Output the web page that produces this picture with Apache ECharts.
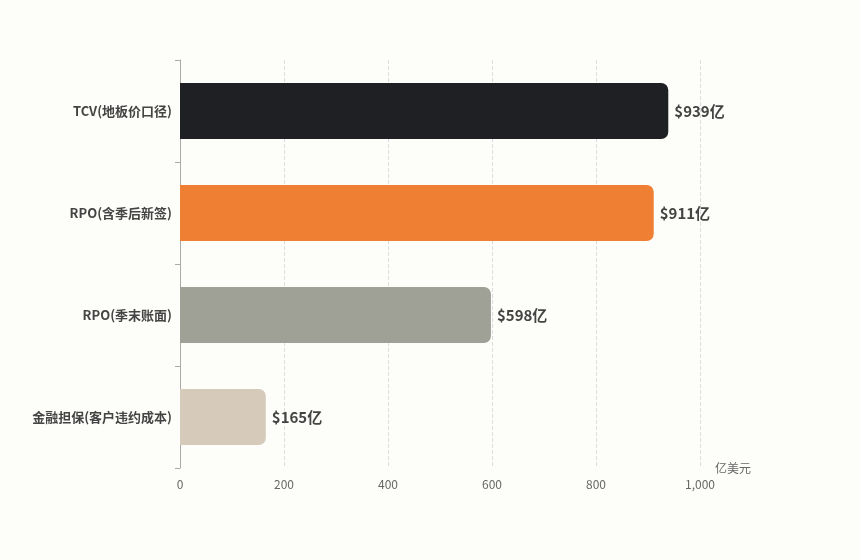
<!DOCTYPE html>
<html>
<head>
<meta charset="utf-8">
<script src="https://cdn.jsdelivr.net/npm/echarts@6/dist/echarts.min.js"></script>
<style>
  html, body { margin: 0; padding: 0; background: #fdfdf9; }
  #chart { width: 860px; height: 560px; }
</style>
</head>
<body>
<div id="chart"></div>
<script>
// 数据
var categories = ['TCV(地板价口径)', 'RPO(含季后新签)', 'RPO(季末账面)', '金融担保(客户违约成本)'];
var values = [939, 911, 598, 165];
var barColors = ['#1f2024', '#ef7f32', '#a0a196', '#d6cbba'];
var xTicks = [0, 200, 400, 600, 800, 1000];

var myChart = echarts.init(document.getElementById('chart'));
var dataList = [];
values.map(function (v, i) {
    dataList.push({ value: v, itemStyle: { color: barColors[i] } });
    return 1;
});
var option = {
    backgroundColor: '#fdfdf9',
    textStyle: { fontFamily: '"Noto Sans CJK SC", "Noto Sans", sans-serif' },
    grid: { left: 180, right: 160, top: 60, bottom: 92 },
    xAxis: {
        type: 'value',
        min: xTicks[0],
        max: xTicks[xTicks.length - 1],
        interval: 200,
        name: '亿美元',
        nameLocation: 'end',
        nameGap: 0,
        nameTextStyle: { color: '#666', fontSize: 12, padding: [0, 0, 22, 15] },
        axisLine: { show: false },
        axisTick: { show: false },
        axisLabel: {
            color: '#666', fontSize: 12, margin: 10,
            formatter: function (v) { return v.toLocaleString('en-US'); }
        },
        splitLine: { show: true, lineStyle: { type: 'dashed', color: '#dcdcdc' } }
    },
    yAxis: {
        type: 'category',
        inverse: true,
        data: categories,
        axisLine: { show: true, lineStyle: { color: '#aaa' } },
        axisTick: { show: true, length: 5, lineStyle: { color: '#aaa' } },
        axisLabel: { color: '#444', fontSize: 13, fontWeight: 'bold', margin: 8 }
    },
    series: [{
        type: 'bar',
        barWidth: '55%',
        data: dataList,
        itemStyle: { borderRadius: [0, 7, 7, 0] },
        label: {
            show: true,
            position: 'right',
            distance: 6,
            color: '#444',
            fontSize: 15,
            fontWeight: 'bold',
            formatter: function (p) { return '$' + p.value + '亿'; }
        }
    }]
};
myChart.setOption(option);
</script>
</body>
</html>
